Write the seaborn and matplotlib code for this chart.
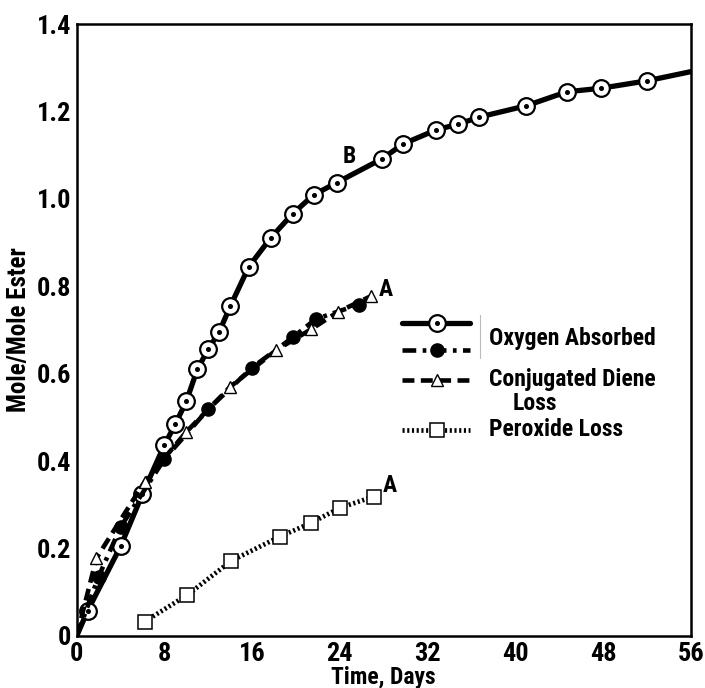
import matplotlib
matplotlib.use("Agg")
import matplotlib.pyplot as plt
from matplotlib import font_manager
import seaborn as sns
import pandas as pd

# ---------------- data ----------------
# Oxygen absorbed, curve B (circle with dot); first/last entries are the curve ends (no marker)
b_days = [0, 1, 4, 6, 8, 9, 10, 11, 12, 13, 14, 15.7, 17.7, 19.7, 21.6, 23.7,
          27.8, 29.8, 32.8, 34.8, 36.7, 41.0, 44.7, 47.8, 52.0, 56]
b_vals = [0, 0.058, 0.205, 0.325, 0.437, 0.485, 0.537, 0.610, 0.656, 0.696, 0.754,
          0.845, 0.911, 0.966, 1.009, 1.037, 1.091, 1.126, 1.158, 1.171, 1.187,
          1.213, 1.245, 1.253, 1.270, 1.291]

# Oxygen absorbed, curve A (filled circles); first entry is the origin (no marker)
oa_days = [0, 2, 4, 8, 12, 16, 19.7, 21.8, 25.7]
oa_vals = [0, 0.136, 0.249, 0.405, 0.519, 0.614, 0.683, 0.725, 0.758]

# Conjugated diene loss, curve A (open triangles); first entry is the origin (no marker)
cd_days = [0, 1.8, 6.2, 10.0, 14.0, 18.2, 21.4, 23.8, 26.8]
cd_vals = [0, 0.178, 0.353, 0.467, 0.570, 0.654, 0.702, 0.741, 0.777]

# Peroxide loss, curve A (open squares)
px_days = [6.2, 10.1, 14.1, 18.5, 21.4, 24.0, 27.1]
px_vals = [0.033, 0.094, 0.172, 0.227, 0.259, 0.293, 0.319]

x_ticks = [0, 8, 16, 24, 32, 40, 48, 56]
y_ticks = [0, 0.2, 0.4, 0.6, 0.8, 1.0, 1.2, 1.4]
y_ticklabels = ["0", "0.2", "0.4", "0.6", "0.8", "1.0", "1.2", "1.4"]

legend_labels = ["Oxygen Absorbed", "Conjugated Diene", "Loss", "Peroxide Loss"]
curve_labels = ["B", "A", "A"]

# ---------------- font choice (condensed bold if available) ----------------
names = {f.name for f in font_manager.fontManager.ttflist}
cond = [f for f in font_manager.fontManager.ttflist
        if f.name == "DejaVu Sans" and "ondensed" in str(f.stretch)]
if "Liberation Sans Narrow" in names:
    FAM, STRETCH, SCALE = "Liberation Sans Narrow", "normal", 1.0
elif "Roboto Condensed" in names:
    FAM, STRETCH, SCALE = "Roboto Condensed", "normal", 1.0
elif cond:
    FAM, STRETCH, SCALE = "DejaVu Sans", "condensed", 0.92
else:
    FAM, STRETCH, SCALE = "Liberation Sans", "normal", 0.80

# ---------------- style ----------------
sns.set_theme(style="white")
K = "black"
plt.rcParams["font.family"] = [FAM, "DejaVu Sans"]
plt.rcParams["font.weight"] = "bold"
plt.rcParams["font.stretch"] = STRETCH
plt.rcParams["text.color"] = K
plt.rcParams["axes.labelcolor"] = K
plt.rcParams["xtick.color"] = K
plt.rcParams["ytick.color"] = K

fig = plt.figure(figsize=(7.05, 6.88), dpi=100)
ax = fig.add_axes([0.1088, 0.0756, 0.871, 0.8895])

def frame(days, vals):
    return pd.DataFrame({"day": days, "val": vals})

# Curve B: oxygen absorbed
sns.lineplot(data=frame(b_days, b_vals), x="day", y="val", ax=ax, color=K, lw=3.8,
             marker="o", markersize=12, markerfacecolor="white",
             markeredgecolor=K, markeredgewidth=1.6,
             markevery=list(range(1, len(b_days) - 1)), zorder=3)
ax.plot(b_days[1:-1], b_vals[1:-1], ls="none", marker="o", ms=2.6,
        color=K, zorder=4)

# Oxygen absorbed, curve A
sns.lineplot(data=frame(oa_days, oa_vals), x="day", y="val", ax=ax, color=K, lw=3.3,
             linestyle=(0, (3.0, 1.4, 0.8, 1.4)),
             marker="o", markersize=9.5, markerfacecolor=K,
             markeredgecolor=K, markeredgewidth=1.0,
             markevery=list(range(1, len(oa_days))), zorder=3)

# Conjugated diene loss
sns.lineplot(data=frame(cd_days, cd_vals), x="day", y="val", ax=ax, color=K, lw=3.3,
             linestyle=(0, (2.6, 1.4)),
             marker="^", markersize=9, markerfacecolor="white",
             markeredgecolor=K, markeredgewidth=1.0,
             markevery=list(range(1, len(cd_days))), zorder=3)

# Peroxide loss
sns.lineplot(data=frame(px_days, px_vals), x="day", y="val", ax=ax, color=K, lw=3.4,
             linestyle=(0, (0.45, 0.55)),
             marker="s", markersize=10, markerfacecolor="white",
             markeredgecolor=K, markeredgewidth=1.1, zorder=3)

# curve letters
fs_txt = 17 * SCALE
ax.text(b_days[15] + 1.2, b_vals[15] + 0.06, curve_labels[0], fontsize=fs_txt,
        fontweight="bold", ha="center", va="center")
ax.text(cd_days[-1] + 1.4, cd_vals[-1] + 0.016, curve_labels[1], fontsize=fs_txt,
        fontweight="bold", ha="center", va="center")
ax.text(px_days[-1] + 1.5, px_vals[-1] + 0.026, curve_labels[2], fontsize=fs_txt,
        fontweight="bold", ha="center", va="center")

# ---------------- legend (drawn in axes fraction) ----------------
T = ax.transAxes
lx0, lx1, lmx = 0.530, 0.640, 0.587
ax.plot([lx0, lx1], [0.5114, 0.5114], transform=T, color=K, lw=3.8, zorder=5)
ax.plot([lmx], [0.5114], transform=T, marker="o", ms=12, mfc="white",
        mec=K, mew=1.6, zorder=6)
ax.plot([lmx], [0.5114], transform=T, marker="o", ms=2.6, color=K, zorder=7)
ax.plot([lx0, lx1], [0.4673, 0.4673], transform=T, color=K, lw=3.3,
        linestyle=(0, (3.0, 1.4, 0.8, 1.4)), zorder=5)
ax.plot([lmx], [0.4673], transform=T, marker="o", ms=9.5, color=K, zorder=6)
ax.plot([lx0, lx1], [0.4183, 0.4183], transform=T, color=K, lw=3.3,
        linestyle=(0, (2.6, 1.4)), zorder=5)
ax.plot([lmx], [0.4183], transform=T, marker="^", ms=9, mfc="white",
        mec=K, mew=1.0, zorder=6)
ax.plot([lx0, lx1], [0.3366, 0.3366], transform=T, color=K, lw=3.4,
        linestyle=(0, (0.45, 0.55)), zorder=5)
ax.plot([lmx], [0.3366], transform=T, marker="s", ms=10, mfc="white",
        mec=K, mew=1.1, zorder=6)
ax.plot([0.657, 0.657], [0.455, 0.525], transform=T, color="#bbbbbb",
        lw=0.8, zorder=5)

fs_leg = 17 * SCALE
ax.text(0.6715, 0.4869, legend_labels[0], transform=T, fontsize=fs_leg,
        fontweight="bold", va="center", ha="left")
ax.text(0.6715, 0.4183, legend_labels[1], transform=T, fontsize=fs_leg,
        fontweight="bold", va="center", ha="left")
ax.text(0.7106, 0.3807, legend_labels[2], transform=T, fontsize=fs_leg,
        fontweight="bold", va="center", ha="left")
ax.text(0.6715, 0.3366, legend_labels[3], transform=T, fontsize=fs_leg,
        fontweight="bold", va="center", ha="left")

# ---------------- axes ----------------
ax.set_xlim(0, 56)
ax.set_ylim(0, 1.4)
ax.set_xticks(x_ticks)
ax.set_xticklabels([str(t) for t in x_ticks])
ax.set_yticks(y_ticks)
ax.set_yticklabels(y_ticklabels)
ax.tick_params(axis="both", which="major", direction="in", length=13,
               width=1.6, color=K, labelsize=19 * SCALE, labelcolor=K)
ax.tick_params(axis="x", pad=4)
ax.tick_params(axis="y", pad=4)
for lab in ax.get_xticklabels() + ax.get_yticklabels():
    lab.set_fontweight("bold")
for sp in ax.spines.values():
    sp.set_visible(True)
    sp.set_color(K)
    sp.set_linewidth(1.8)

ax.set_xlabel("Time, Days", fontsize=17 * SCALE, fontweight="bold", labelpad=0)
ax.set_ylabel("Mole/Mole Ester", fontsize=18 * SCALE, fontweight="bold", labelpad=4)
ax.grid(False)
if ax.get_legend() is not None:
    ax.get_legend().remove()

fig.savefig("out.png", dpi=100, facecolor="white")
